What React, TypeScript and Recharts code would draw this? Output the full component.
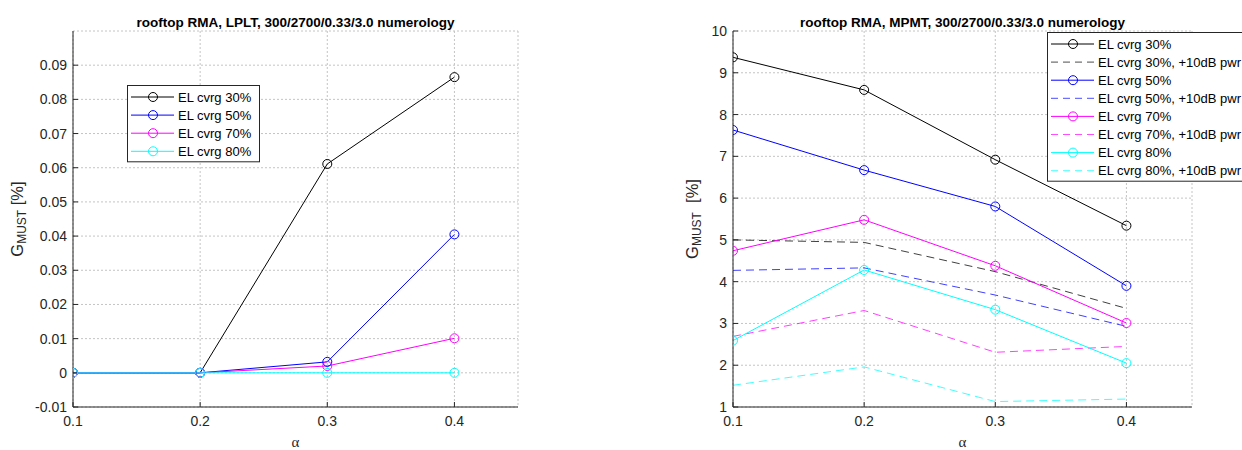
import React from 'react';
import { LineChart, Line, XAxis, YAxis, CartesianGrid } from 'recharts';

// ---------- data ----------
const alpha = [0.1, 0.2, 0.3, 0.4];
const xTicks = [0.1, 0.2, 0.3, 0.4];

// left panel: rooftop RMA, LPLT
const lplt30 = [0, 0, 0.0611, 0.0865];
const lplt50 = [0, 0, 0.0032, 0.0405];
const lplt70 = [0, 0, 0.002, 0.0101];
const lplt80 = [0, 0, 0, 0];
const leftYTicks = [-0.01, 0, 0.01, 0.02, 0.03, 0.04, 0.05, 0.06, 0.07, 0.08, 0.09];

// right panel: rooftop RMA, MPMT
const mpmt30 = [9.37, 8.59, 6.92, 5.34];
const mpmt30p = [5.0, 4.94, 4.24, 3.36];
const mpmt50 = [7.63, 6.67, 5.8, 3.9];
const mpmt50p = [4.27, 4.33, 3.68, 2.93];
const mpmt70 = [4.74, 5.48, 4.38, 3.01];
const mpmt70p = [2.69, 3.31, 2.31, 2.45];
const mpmt80 = [2.59, 4.28, 3.33, 2.05];
const mpmt80p = [1.52, 1.96, 1.13, 1.19];
const rightYTicks = [1, 2, 3, 4, 5, 6, 7, 8, 9, 10];

const leftTitle = 'rooftop RMA, LPLT, 300/2700/0.33/3.0 numerology';
const rightTitle = 'rooftop RMA, MPMT, 300/2700/0.33/3.0 numerology';

// ---------- build tables ----------
type Series = { key: string; name: string; color: string; dashed: boolean; values: number[] };

const leftSeries: Series[] = [
  { key: 's30', name: 'EL cvrg 30%', color: '#000000', dashed: false, values: lplt30 },
  { key: 's50', name: 'EL cvrg 50%', color: '#0000ff', dashed: false, values: lplt50 },
  { key: 's70', name: 'EL cvrg 70%', color: '#ff00ff', dashed: false, values: lplt70 },
  { key: 's80', name: 'EL cvrg 80%', color: '#00ffff', dashed: false, values: lplt80 },
];

const rightSeries: Series[] = [
  { key: 's30', name: 'EL cvrg 30%', color: '#000000', dashed: false, values: mpmt30 },
  { key: 's30p', name: 'EL cvrg 30%, +10dB pwr', color: '#000000', dashed: true, values: mpmt30p },
  { key: 's50', name: 'EL cvrg 50%', color: '#0000ff', dashed: false, values: mpmt50 },
  { key: 's50p', name: 'EL cvrg 50%, +10dB pwr', color: '#0000ff', dashed: true, values: mpmt50p },
  { key: 's70', name: 'EL cvrg 70%', color: '#ff00ff', dashed: false, values: mpmt70 },
  { key: 's70p', name: 'EL cvrg 70%, +10dB pwr', color: '#ff00ff', dashed: true, values: mpmt70p },
  { key: 's80', name: 'EL cvrg 80%', color: '#00ffff', dashed: false, values: mpmt80 },
  { key: 's80p', name: 'EL cvrg 80%, +10dB pwr', color: '#00ffff', dashed: true, values: mpmt80p },
];

const buildData = (series: Series[]) =>
  alpha.map((a, i) => {
    const row: Record<string, number> = { alpha: a };
    series.forEach((s) => (row[s.key] = s.values[i]));
    return row;
  });

const leftData = buildData(leftSeries);
const rightData = buildData(rightSeries);

// ---------- styling ----------
const FONT = '"Liberation Sans", Arial, Helvetica, sans-serif';
const AX = '#262626';
const H = 450;

function Legend({ series, x, y, width }: { series: Series[]; x: number; y: number; width: number }) {
  const rowH = 18.1;
  const height = 12 + rowH * (series.length - 1) + 9 + 2;
  return (
    <svg
      style={{ position: 'absolute', left: x, top: y, overflow: 'visible' }}
      width={width}
      height={height}
    >
      <rect x={0.5} y={0.5} width={width - 1} height={height - 1} fill="#ffffff" stroke={AX} strokeWidth={1} />
      {series.map((s, i) => {
        const cy = 12 + i * rowH;
        return (
          <g key={s.key}>
            <line
              x1={4}
              x2={47}
              y1={cy}
              y2={cy}
              stroke={s.color}
              strokeOpacity={s.dashed ? 0.7 : 1}
              strokeWidth={1}
              strokeDasharray={s.dashed ? '7 5' : undefined}
            />
            {!s.dashed && <circle cx={26} cy={cy} r={4.5} fill="none" stroke={s.color} strokeWidth={1} />}
            <text x={51} y={cy + 4.6} fontFamily={FONT} fontSize={13} fill="#000">
              {s.name}
            </text>
          </g>
        );
      })}
    </svg>
  );
}

type PanelProps = {
  left: number;
  width: number;
  data: Record<string, number>[];
  series: Series[];
  yDomain: [number, number];
  yTicks: number[];
  yFmt: (v: number) => string;
  yAxisWidth: number;
  rightMargin: number;
  title: string;
  yLabelX: number;
  yLabelGap: string;
  legend: { x: number; y: number; width: number };
};

function Panel(p: PanelProps) {
  const top = 31;
  const bottom = 407;
  const plotLeft = p.yAxisWidth;
  const plotRight = p.width - p.rightMargin;
  const cx = (plotLeft + plotRight) / 2;
  const cy = (top + bottom) / 2;
  return (
    <div style={{ position: 'absolute', left: p.left, top: 0, width: p.width, height: H }}>
      <LineChart width={p.width} height={H} data={p.data} margin={{ top, right: p.rightMargin, bottom: 0, left: 0 }}>
        <CartesianGrid stroke="#c4c4c4" strokeDasharray="2 2" />
        <XAxis
          dataKey="alpha"
          type="number"
          domain={[0.1, 0.45]}
          ticks={xTicks}
          interval={0}
          allowDataOverflow
          height={H - bottom}
          tickSize={-5}
          tickMargin={14}
          stroke={AX}
          tick={{ fill: AX, fontSize: 14, fontFamily: FONT }}
          tickFormatter={(v: number) => v.toFixed(1)}
        />
        <XAxis
          xAxisId="top"
          orientation="top"
          type="number"
          domain={[0.1, 0.45]}
          ticks={xTicks}
          interval={0}
          height={0}
          tickSize={-5}
          tick={false}
          stroke={AX}
        />
        <YAxis
          type="number"
          domain={p.yDomain}
          ticks={p.yTicks}
          interval={0}
          allowDataOverflow
          width={p.yAxisWidth}
          tickSize={-5}
          tickMargin={11}
          stroke={AX}
          tick={{ fill: AX, fontSize: 14, fontFamily: FONT }}
          tickFormatter={p.yFmt}
        />
        <YAxis
          yAxisId="right"
          orientation="right"
          type="number"
          domain={p.yDomain}
          ticks={p.yTicks}
          interval={0}
          width={0}
          tickSize={-5}
          tick={false}
          stroke={AX}
        />
        {p.series.map((s) => (
          <Line
            key={s.key}
            dataKey={s.key}
            name={s.name}
            type="linear"
            stroke={s.color}
            strokeOpacity={s.dashed ? 0.75 : 1}
            strokeWidth={1}
            strokeDasharray={s.dashed ? '8 5' : undefined}
            dot={s.dashed ? false : { r: 4.5, stroke: s.color, fill: 'none', strokeWidth: 1, strokeOpacity: 1 }}
            activeDot={false}
            isAnimationActive={false}
          />
        ))}
      </LineChart>
      <svg style={{ position: 'absolute', left: 0, top: 0, pointerEvents: 'none' }} width={p.width} height={H}>
        <text x={cx} y={27} textAnchor="middle" fontFamily={FONT} fontWeight="bold" fontSize={13.5} fill="#000">
          {p.title}
        </text>
        <text
          x={p.yLabelX}
          y={cy}
          transform={`rotate(-90 ${p.yLabelX} ${cy})`}
          textAnchor="middle"
          dominantBaseline="central"
          fontFamily={FONT}
          fontSize={16.5}
          fill={AX}
        >
          G
          <tspan fontSize={12} dy={4.5}>
            MUST
          </tspan>
          <tspan dy={-4.5} style={{ whiteSpace: 'pre' }}>
            {p.yLabelGap + '[%]'}
          </tspan>
        </text>
        <text x={cx} y={447} textAnchor="middle" fontFamily='"Liberation Serif", "DejaVu Serif", serif' fontSize={15} fill={AX}>
          α
        </text>
      </svg>
      <Legend series={p.series} x={p.legend.x} y={p.legend.y} width={p.legend.width} />
    </div>
  );
}

export default function App() {
  return (
    <div
      style={{
        position: 'absolute',
        left: 0,
        top: 0,
        width: 1242,
        height: H,
        overflow: 'hidden',
        background: '#ffffff',
        fontFamily: FONT,
      }}
    >
      <Panel
        left={0}
        width={621}
        data={leftData}
        series={leftSeries}
        yDomain={[-0.01, 0.1]}
        yTicks={leftYTicks}
        yFmt={(v: number) => (Math.abs(v) < 1e-9 ? '0' : v.toFixed(2))}
        yAxisWidth={73}
        rightMargin={103}
        title={leftTitle}
        yLabelX={17}
        yLabelGap=" "
        legend={{ x: 127, y: 85, width: 133 }}
      />
      <Panel
        left={621}
        width={621}
        data={rightData}
        series={rightSeries}
        yDomain={[1, 10]}
        yTicks={rightYTicks}
        yFmt={(v: number) => String(v)}
        yAxisWidth={112}
        rightMargin={50}
        title={rightTitle}
        yLabelX={71}
        yLabelGap="  "
        legend={{ x: 426, y: 32, width: 210 }}
      />
    </div>
  );
}
